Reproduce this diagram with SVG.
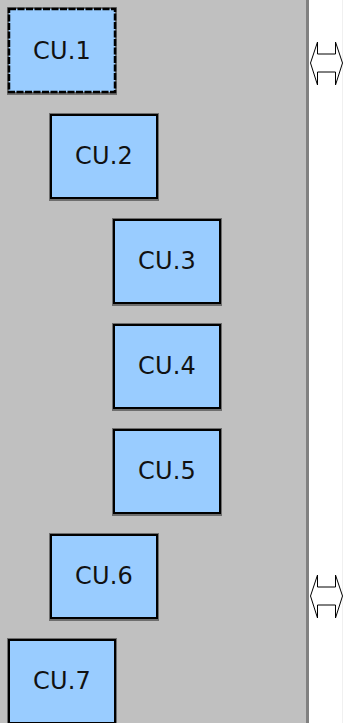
<svg xmlns="http://www.w3.org/2000/svg" width="343" height="723" viewBox="0 0 343 723">
  <style>
    .shadow { fill: #6e6e6e; }
    .box { fill: #99ccff; stroke: #000000; stroke-width: 2; }
    .box.sel { stroke-dasharray: 7 1.5; stroke-width: 2.5; }
    .label { font-family: "DejaVu Sans", Verdana, sans-serif; font-size: 24px; fill: #111111; text-anchor: middle; letter-spacing: 0.2px; }
    .dbl { fill: #ffffff; stroke: #000000; stroke-width: 1; stroke-linejoin: miter; }
  </style>
  <defs>
    <polygon id="dblArrow" class="dbl" points="310.5,63 317.5,42 317.5,54 335.5,54 335.5,42 342.5,63 335.5,85 335.5,72 317.5,72 317.5,85"/>
  </defs>

  <!-- panel background and divider -->
  <rect x="0" y="0" width="343" height="723" fill="#ffffff"/>
  <rect x="0" y="0" width="306" height="723" fill="#c0c0c0"/>
  <rect x="306" y="0" width="3" height="723" fill="#808080"/>
  <line x1="342.5" y1="0" x2="342.5" y2="723" stroke="#f0f0f0" stroke-width="1"/>

  <g id="connectors">
    <use href="#dblArrow"/>
    <use href="#dblArrow" transform="translate(0,533)"/>
  </g>

  <g id="cu1">
    <rect class="shadow" x="7" y="7" width="110" height="88"/>
    <rect class="box sel" x="9" y="9" width="106" height="83"/>
    <text class="label" x="62" y="59">CU.1</text>
  </g>
  <g id="cu2">
    <rect class="shadow" x="49" y="113" width="110" height="88"/>
    <rect class="box" x="51" y="115" width="106" height="83"/>
    <text class="label" x="104" y="164">CU.2</text>
  </g>
  <g id="cu3">
    <rect class="shadow" x="112" y="218" width="110" height="88"/>
    <rect class="box" x="114" y="220" width="106" height="83"/>
    <text class="label" x="167" y="269">CU.3</text>
  </g>
  <g id="cu4">
    <rect class="shadow" x="112" y="323" width="110" height="88"/>
    <rect class="box" x="114" y="325" width="106" height="83"/>
    <text class="label" x="167" y="374">CU.4</text>
  </g>
  <g id="cu5">
    <rect class="shadow" x="112" y="428" width="110" height="88"/>
    <rect class="box" x="114" y="430" width="106" height="83"/>
    <text class="label" x="167" y="479">CU.5</text>
  </g>
  <g id="cu6">
    <rect class="shadow" x="49" y="533" width="110" height="88"/>
    <rect class="box" x="51" y="535" width="106" height="83"/>
    <text class="label" x="104" y="584">CU.6</text>
  </g>
  <g id="cu7">
    <rect class="shadow" x="7" y="638" width="110" height="88"/>
    <rect class="box" x="9" y="640" width="106" height="83"/>
    <text class="label" x="62" y="689">CU.7</text>
  </g>
</svg>
